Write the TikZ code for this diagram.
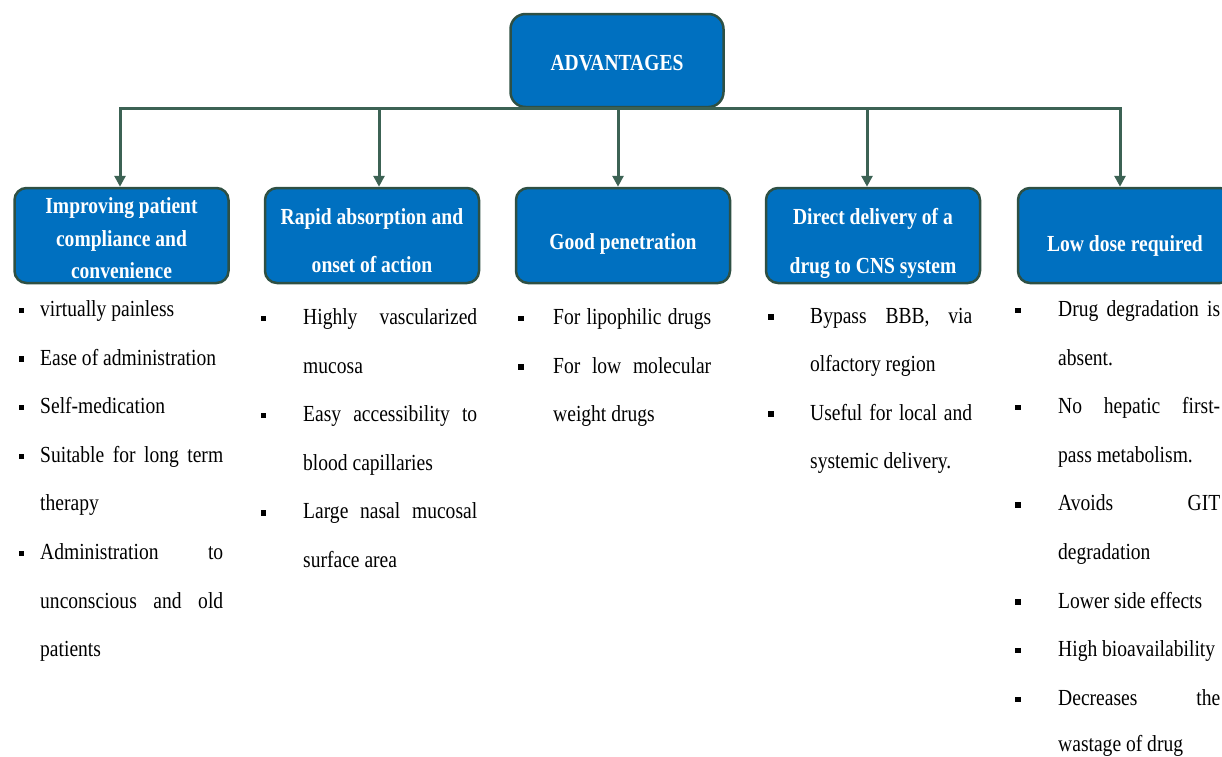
\documentclass[tikz,border=0pt]{standalone}
\usepackage{fontspec}
\setmainfont{Liberation Serif}[FakeStretch=0.85]
\usetikzlibrary{arrows.meta}
\definecolor{boxblue}{RGB}{0,112,192}
\definecolor{boxedge}{RGB}{46,80,68}
\definecolor{connc}{RGB}{60,98,84}
\newcommand\jl[2]{\makebox[#1pt][s]{#2}}
\begin{document}
\begin{tikzpicture}[x=1pt,y=-1pt,
  hbox/.style={draw=boxedge, line width=2.5pt, fill=boxblue, rounded corners=12pt,
    inner sep=0pt, minimum width=214pt, minimum height=95pt},
  htext/.style={text=white, align=center, inner sep=0pt, font=\fontsize{23}{#1}\selectfont\bfseries},
  ln/.style={anchor=base west, inner sep=0pt, font=\fontsize{23}{28}\selectfont},
  bul/.style={rectangle, fill=black, inner sep=0pt, minimum size=5.5pt},
  bus/.style={draw=connc, line width=3pt, line cap=rect},
  arr/.style={draw=connc, line width=3pt, -{Triangle[width=11pt,length=11pt]}}]
\useasboundingbox (0,0) rectangle (1222,756);
\clip (0,0) rectangle (1222,756);

% title and heading boxes
\node[hbox, minimum width=213pt, minimum height=93pt, rounded corners=15pt] (title) at (617,60.5) {};
\node[hbox] (b1) at (121.5,235.5) {};
\node[hbox] (b2) at (372,235.5) {};
\node[hbox] (b3) at (623,235.5) {};
\node[hbox] (b4) at (873,235.5) {};
\node[hbox] (b5) at (1125,235.5) {};
\node[htext=28] (titlet) at ([yshift=-3pt]title.center) {ADVANTAGES};
\node[htext=32.5] (b1t) at ([yshift=-3pt]b1.center) {Improving patient\\compliance and\\convenience};
\node[htext=48.5] (b2t) at ([yshift=-5pt]b2.center) {Rapid absorption and\\onset of action};
\node[htext=28] (b3t) at ([yshift=-8pt]b3.center) {Good penetration};
\node[htext=48.5] (b4t) at ([yshift=-8pt]b4.center) {Direct delivery of a\\drug to CNS system};
\node[htext=28] (b5t) at ([yshift=-10pt]b5.center) {Low dose required};

% connectors
\coordinate (j1) at (120,108);
\coordinate (j2) at (379,108);
\coordinate (j3) at (618,108);
\coordinate (j4) at (867,108);
\coordinate (j5) at (1120,108);
\draw[bus] (j1) -- (j5);
\draw[arr] (j1) -- (j1 |- b1.north);
\draw[arr] (j2) -- (j2 |- b2.north);
\draw[arr] (j3) -- (j3 |- b3.north);
\draw[arr] (j4) -- (j4 |- b4.north);
\draw[arr] (j5) -- (j5 |- b5.north);

% column 1
\node[bul] (c1b1) at (21.5,310.5) {};
\node[bul] (c1b2) at (21.5,359.1) {};
\node[bul] (c1b3) at (21.5,407.7) {};
\node[bul] (c1b4) at (21.5,456.3) {};
\node[bul] (c1b5) at (21.5,553.5) {};
\node[ln] (c1l1) at (40,316.5) {virtually painless};
\node[ln] (c1l2) at (40,365.1) {Ease of administration};
\node[ln] (c1l3) at (40,413.7) {Self-medication};
\node[ln] (c1l4) at (40,462.3) {\jl{183}{Suitable for long term}};
\node[ln] (c1l5) at (40,510.9) {therapy};
\node[ln] (c1l6) at (40,559.5) {\jl{183}{Administration to}};
\node[ln] (c1l7) at (40,608.1) {\jl{183}{unconscious and old}};
\node[ln] (c1l8) at (40,656.7) {patients};

% column 2
\node[bul] (c2b1) at (263.5,318.5) {};
\node[bul] (c2b2) at (263.5,415.7) {};
\node[bul] (c2b3) at (263.5,512.9) {};
\node[ln] (c2l1) at (303,324.5) {\jl{174}{Highly vascularized}};
\node[ln] (c2l2) at (303,373.1) {mucosa};
\node[ln] (c2l3) at (303,421.7) {\jl{174}{Easy accessibility to}};
\node[ln] (c2l4) at (303,470.3) {blood capillaries};
\node[ln] (c2l5) at (303,518.9) {\jl{174}{Large nasal mucosal}};
\node[ln] (c2l6) at (303,567.5) {surface area};

% column 3
\node[bul] (c3b1) at (521,318.5) {};
\node[bul] (c3b2) at (521,367.1) {};
\node[ln] (c3l1) at (553,324.5) {\jl{158}{For lipophilic drugs}};
\node[ln] (c3l2) at (553,373.1) {\jl{158}{For low molecular}};
\node[ln] (c3l3) at (553,421.7) {weight drugs};

% column 4
\node[bul] (c4b1) at (771,317) {};
\node[bul] (c4b2) at (771,414.2) {};
\node[ln] (c4l1) at (810,323) {\jl{162}{Bypass BBB, via}};
\node[ln] (c4l2) at (810,371.6) {olfactory region};
\node[ln] (c4l3) at (810,420.2) {\jl{162}{Useful for local and}};
\node[ln] (c4l4) at (810,468.8) {systemic delivery.};

% column 5
\node[bul] (c5b1) at (1018,310.5) {};
\node[bul] (c5b2) at (1018,407.7) {};
\node[bul] (c5b3) at (1018,504.9) {};
\node[bul] (c5b4) at (1018,602.1) {};
\node[bul] (c5b5) at (1018,650.7) {};
\node[bul] (c5b6) at (1018,699.3) {};
\node[ln] (c5l1) at (1058,316.5) {\jl{162}{Drug degradation is}};
\node[ln] (c5l2) at (1058,365.1) {absent.};
\node[ln] (c5l3) at (1058,413.7) {\jl{162}{No hepatic first-}};
\node[ln] (c5l4) at (1058,462.3) {pass metabolism.};
\node[ln] (c5l5) at (1058,510.9) {\jl{162}{Avoids GIT}};
\node[ln] (c5l6) at (1058,559.5) {degradation};
\node[ln] (c5l7) at (1058,608.1) {Lower side effects};
\node[ln] (c5l8) at (1058,656.7) {High bioavailability};
\node[ln] (c5l9) at (1058,705.3) {\jl{162}{Decreases the}};
\node[ln] (c5l10) at (1058,751.5) {wastage of drug};
\end{tikzpicture}
\end{document}
